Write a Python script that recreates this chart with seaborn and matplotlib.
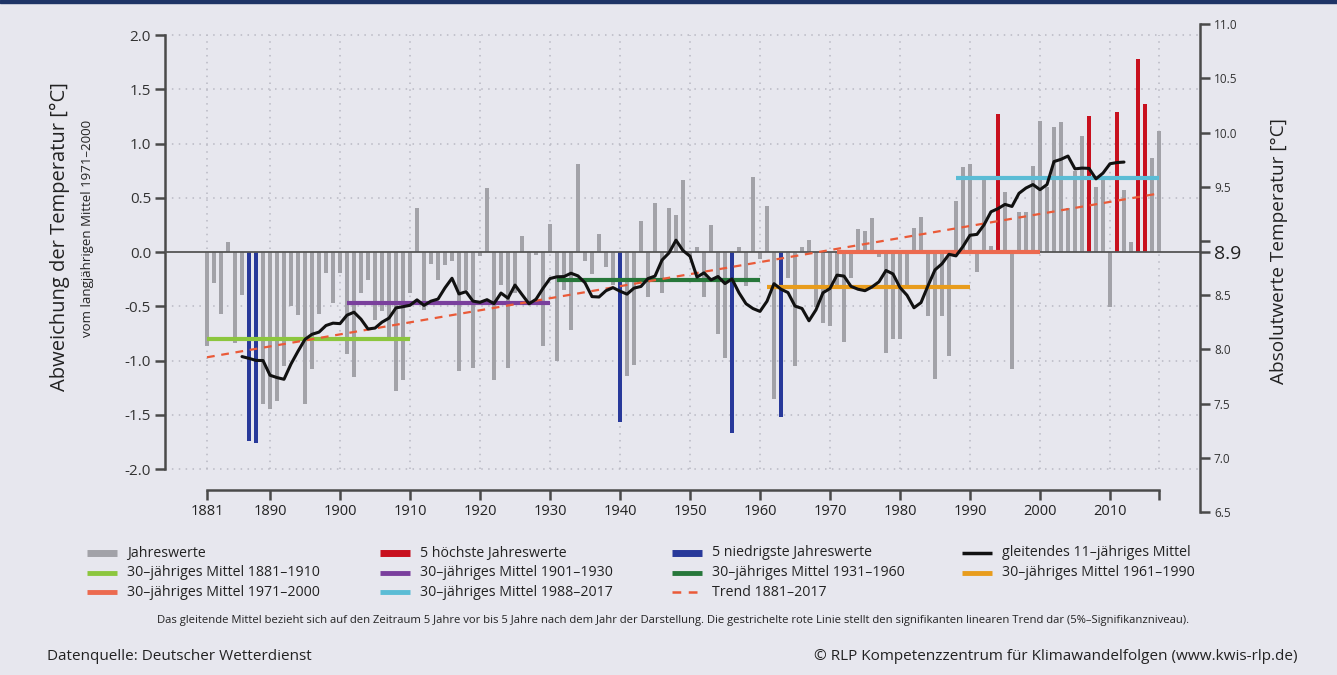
import numpy as np
import pandas as pd
import seaborn as sns
import matplotlib.pyplot as plt
from matplotlib.lines import Line2D
from matplotlib.patches import Rectangle

# Jahresmittel-Abweichung vom Mittel 1971-2000
years = list(range(1881, 2018))
anomaly = [
    -0.87, -0.29, -0.57, 0.09, -0.84, -0.40, -1.74, -1.76, -1.40, -1.45,   # 1881-1890
    -1.37, -1.05, -0.50, -0.58, -1.40, -1.08, -0.57, -0.19, -0.47, -0.19,   # 1891-1900
    -0.94, -1.15, -0.38, -0.26, -0.63, -0.54, -0.78, -1.28, -1.18, -0.38,   # 1901-1910
    0.41, -0.53, -0.11, -0.26, -0.12, -0.08, -1.10, -0.35, -1.07, -0.04,    # 1911-1920
    0.59, -1.18, -0.30, -1.07, -0.38, 0.15, -0.48, -0.03, -0.87, 0.26,      # 1921-1930
    -1.00, -0.35, -0.72, 0.81, -0.08, -0.20, 0.17, -0.14, -0.30, -1.57,     # 1931-1940
    -1.14, -1.04, 0.29, -0.41, 0.45, -0.38, 0.41, 0.34, 0.66, -0.05,        # 1941-1950
    0.05, -0.41, 0.25, -0.76, -0.98, -1.67, 0.05, -0.31, 0.69, -0.06,       # 1951-1960
    0.42, -1.35, -1.52, -0.24, -1.05, 0.05, 0.11, -0.51, -0.65, -0.68,      # 1961-1970
    -0.30, -0.83, -0.24, 0.21, 0.19, 0.31, -0.05, -0.93, -0.80, -0.80,      # 1971-1980
    -0.30, 0.22, 0.32, -0.59, -1.17, -0.59, -0.96, 0.47, 0.78, 0.81,        # 1981-1990
    -0.18, 0.66, 0.06, 1.27, 0.55, -1.08, 0.37, 0.37, 0.79, 1.21,           # 1991-2000
    0.60, 1.15, 1.20, 0.41, 0.75, 1.07, 1.25, 0.60, 0.70, -0.51,            # 2001-2010
    1.29, 0.57, 0.09, 1.78, 1.36, 0.87, 1.12,                               # 2011-2017
]
hot_years = [1994, 2007, 2011, 2014, 2015]
cold_years = [1887, 1888, 1940, 1956, 1963]

period_labels = ["1881–1910", "1901–1930", "1931–1960", "1961–1990", "1971–2000", "1988–2017"]
period_start = [1881, 1901, 1931, 1961, 1971, 1988]
period_end = [1910, 1930, 1960, 1990, 2000, 2017]
period_mean = [-0.80, -0.47, -0.255, -0.32, 0.0, 0.685]
period_colors = ["#8cc63e", "#7a3f9d", "#27773a", "#e89c1c", "#ec6a4f", "#5bbcd5"]

trend_years = [1881, 2017]
trend_values = [-0.97, 0.54]
baseline = 8.9

year_ticks = [1881, 1890, 1900, 1910, 1920, 1930, 1940, 1950, 1960, 1970, 1980, 1990, 2000, 2010]
left_ticks = [-2.0, -1.5, -1.0, -0.5, 0.0, 0.5, 1.0, 1.5, 2.0]
right_ticks = [6.5, 7.0, 7.5, 8.0, 8.5, 9.0, 9.5, 10.0, 10.5, 11.0]

bg = "#e7e7ee"
gray = "#a2a2a8"
red = "#c8101e"
blue = "#28399a"
trend_col = "#ea5a38"
axis_col = "#4a4a4a"

df = pd.DataFrame({"Jahr": years, "Abweichung": anomaly})
df["Kategorie"] = "normal"
df.loc[df["Jahr"].isin(hot_years), "Kategorie"] = "hot"
df.loc[df["Jahr"].isin(cold_years), "Kategorie"] = "cold"
df["Mittel"] = df["Abweichung"].rolling(11, center=True).mean()

sns.set_theme(style="white")
plt.rcParams["font.family"] = ["Open Sans", "DejaVu Sans"]

W, H = 1337, 675
fig = plt.figure(figsize=(W / 100, H / 100), dpi=100, facecolor=bg)
fig.add_artist(Rectangle((0, 1 - 3 / H), 1, 3 / H, color="#1e3466", transform=fig.transFigure))

ax = fig.add_axes([165 / W, 163 / H, 1035 / W, 490 / H])
ax.set_facecolor(bg)

# gepunktetes Gitter
grid_kw = dict(color="#b9b9c3", lw=1.1, ls=(0, (1, 3.5)), zorder=0)
ax.hlines([v for v in left_ticks if v != 0], 1875.0, 2022.86, **grid_kw)
ax.vlines(year_ticks + [2017], -2.0, 2.0, **grid_kw)

sns.barplot(data=df, x="Jahr", y="Abweichung", hue="Kategorie",
            palette={"normal": gray, "hot": red, "cold": blue},
            native_scale=True, dodge=False, width=0.66, errorbar=None,
            saturation=1, linewidth=0, legend=False, ax=ax, zorder=2)

ax.axhline(0, color="#555555", lw=1.3, zorder=3)

for s, e, m, c in zip(period_start, period_end, period_mean, period_colors):
    ax.plot([s, e], [m, m], color=c, lw=3.0, solid_capstyle="butt", zorder=4)

sns.lineplot(x=trend_years, y=trend_values, color=trend_col, lw=1.6,
             dashes=False, ls=(0, (3.5, 3)), ax=ax, zorder=5)
ma = df.dropna(subset=["Mittel"])
sns.lineplot(data=ma, x="Jahr", y="Mittel", color="#111111", lw=2.2, ax=ax, zorder=6)

ax.set_xlim(1875.0, 2022.86)
ax.set_ylim(-2.396, 2.12)
ax.set_xlabel("")
ax.set_ylabel("")

for side in ["top", "right"]:
    ax.spines[side].set_visible(False)
ax.spines["left"].set_bounds(-2.0, 2.0)
ax.spines["left"].set_color(axis_col)
ax.spines["left"].set_linewidth(1.8)
ax.spines["bottom"].set_position(("data", -2.19))
ax.spines["bottom"].set_bounds(1881, 2017)
ax.spines["bottom"].set_color(axis_col)
ax.spines["bottom"].set_linewidth(1.8)

ax.set_yticks(left_ticks)
ax.set_yticklabels([f"{v:.1f}" for v in left_ticks])
ax.set_xticks(year_ticks + [2017])
ax.set_xticklabels([str(y) for y in year_ticks] + [""])
ax.tick_params(axis="y", direction="out", length=7, width=1.8, color=axis_col,
               labelsize=11, labelcolor="#333333", pad=3, left=True)
ax.tick_params(axis="x", direction="out", length=7, width=1.8, color=axis_col,
               labelsize=10.5, labelcolor="#222222", pad=3, bottom=True)

tw = ax.twinx()
tw.set_ylim(-2.396 + baseline, 2.12 + baseline)
for side in ["top", "left", "bottom"]:
    tw.spines[side].set_visible(False)
tw.spines["right"].set_bounds(6.5, 11.0)
tw.spines["right"].set_color(axis_col)
tw.spines["right"].set_linewidth(1.8)
tw.set_yticks(right_ticks + [baseline])
tw.set_yticklabels([("" if v == 9.0 else f"{v:.1f}") for v in right_ticks] + ["8.9"])
tw.tick_params(axis="y", direction="out", length=7, width=1.8, color=axis_col,
               labelsize=8.5, labelcolor="#333333", pad=3, right=True)
tw.get_yticklabels()[-1].set_fontsize(14)
tw.get_yticklabels()[-1].set_color("#222222")
tw.grid(False)
ax.grid(False)

# Achsentitel
fig.text(60 / W, 1 - 237 / H, "Abweichung der Temperatur [°C]", rotation=90,
         ha="center", va="center", fontsize=14.5, color="#222222")
fig.text(88 / W, 1 - 228 / H, "vom langjährigen Mittel 1971–2000", rotation=90,
         ha="center", va="center", fontsize=9.5, color="#222222")
fig.text(1279 / W, 1 - 251 / H, "Absolutwerte Temperatur [°C]", rotation=90,
         ha="center", va="center", fontsize=13.7, color="#222222")

# Legende
legend_items = [
    ("Jahreswerte", gray, 5, "-"),
    ("30–jähriges Mittel 1881–1910", period_colors[0], 3.5, "-"),
    ("30–jähriges Mittel 1971–2000", period_colors[4], 3.5, "-"),
    ("5 höchste Jahreswerte", red, 5, "-"),
    ("30–jähriges Mittel 1901–1930", period_colors[1], 3.5, "-"),
    ("30–jähriges Mittel 1988–2017", period_colors[5], 3.5, "-"),
    ("5 niedrigste Jahreswerte", blue, 5, "-"),
    ("30–jähriges Mittel 1931–1960", period_colors[2], 3.5, "-"),
    ("Trend 1881–2017", trend_col, 1.8, (0, (3.5, 3))),
    ("gleitendes 11–jähriges Mittel", "#111111", 2.5, "-"),
    ("30–jähriges Mittel 1961–1990", period_colors[3], 3.5, "-"),
]
col_x = [87, 380, 672, 962]
row_y = [553, 573, 592]
for i, (lab, c, lw, ls) in enumerate(legend_items):
    x0 = col_x[i // 3]
    y0 = 1 - row_y[i % 3] / H
    fig.add_artist(Line2D([x0 / W, (x0 + 30) / W], [y0, y0], color=c, lw=lw, ls=ls,
                          solid_capstyle="butt", transform=fig.transFigure))
    fig.text((x0 + 40) / W, y0, lab, ha="left", va="center", fontsize=10.2, color="#222222")

fig.text(673 / W, 1 - 620 / H,
         "Das gleitende Mittel bezieht sich auf den Zeitraum 5 Jahre vor bis 5 Jahre nach dem Jahr "
         "der Darstellung. Die gestrichelte rote Linie stellt den signifikanten linearen Trend dar "
         "(5%–Signifikanzniveau).",
         ha="center", va="center", fontsize=8.1, color="#222222")
fig.text(47 / W, 1 - 656 / H, "Datenquelle: Deutscher Wetterdienst",
         ha="left", va="center", fontsize=11, color="#222222")
fig.text(1297 / W, 1 - 656 / H, "© RLP Kompetenzzentrum für Klimawandelfolgen (www.kwis-rlp.de)",
         ha="right", va="center", fontsize=11, color="#222222")

fig.savefig("out.png", dpi=100, facecolor=fig.get_facecolor())
